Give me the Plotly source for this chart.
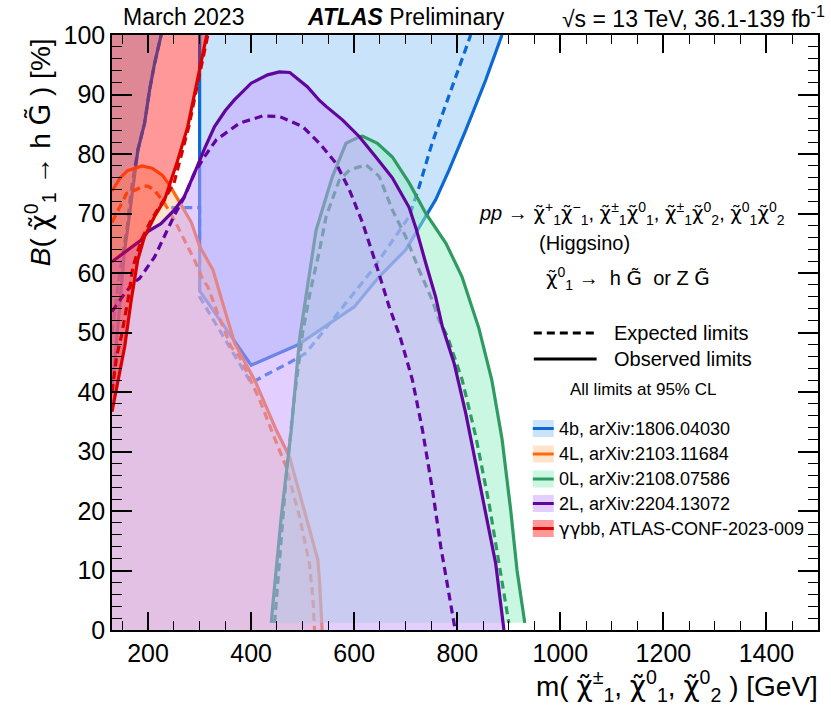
import plotly.graph_objects as go

X_MIN, X_MAX = 130, 1500
Y_MIN, Y_MAX = 0, 100

# ---------------- data ----------------
# 4b, arXiv:1806.04030
b4_obs_right_x = [300, 300, 400, 490, 600, 648.7, 700, 739, 758, 784, 816.5, 855, 886.7]
b4_obs_right_y = [100, 57, 44.5, 47.9, 54.3, 59.4, 63.9, 69.5, 72.3, 77.3, 84, 92.4, 100]
b4_obs_left_x = [130, 138, 147, 154.6, 161, 170.6, 180.3, 193.3, 203, 212.6, 225.4]
b4_obs_left_y = [40, 48, 57, 63.9, 67.8, 73.9, 80.7, 85.2, 90.8, 95.2, 100]
b4_exp_x = [130, 145, 160, 166, 172, 180.3, 193.3, 203, 212.6, 225.4, None,
            245, 300, 300, 400, 429, 478, 507, 545.5, 577, 635, 706.7, 726, 751, 790, 826]
b4_exp_y = [50, 60, 68, 73, 76.5, 80.7, 85.2, 90.8, 95.2, 100, None,
            71, 71, 56, 41.5, 42.9, 45.1, 46.6, 50.8, 54.3, 60.5, 69.5, 74.5, 81.8, 91.3, 100]

# 4L, arXiv:2103.11684
l4_obs_x = [130, 146, 160, 188, 208, 228, 243, 262, 283.5, 300, 326, 347, 368, 408, 432.5, 448.7, 474.5, 500, 529.5, 533, 537.8]
l4_obs_y = [73.8, 76, 77.2, 78, 77.6, 76.4, 74.6, 71.8, 68.6, 64.5, 60.5, 54.3, 48.2, 41.8, 37, 33.6, 29.1, 21.3, 11.8, 7.8, 0]
l4_exp_x = [130, 148, 158.5, 174, 190.6, 200, 212.6, 232, 251, 270.7, 290, 306.7, 315.8, 335, 345.4, 361, 377.7, 416.4, 442, 468, 494, 513, 519.6, 523]
l4_exp_y = [68.5, 71.7, 73.4, 73.9, 74.6, 74.6, 73.9, 71.7, 68.9, 65.5, 62.2, 58.8, 57.7, 53.2, 51, 47.6, 45.9, 38.7, 33, 27.4, 19, 11.2, 5.6, 0]

# 0L, arXiv:2108.07586
l0_obs_x = [439, 441.7, 458.4, 477.8, 494, 519, 526, 557.7, 584, 610, 616, 645, 674, 707, 739, 778, 809, 842, 867, 887, 903.6, 916, 931]
l0_obs_y = [1.2, 3.9, 19, 33.6, 49, 63.9, 67.2, 76.2, 81.8, 82.9, 83, 81.8, 79.5, 75.1, 70, 65, 59.4, 50.7, 42, 32, 20.2, 10, 1.2]
l0_exp_x = [445.5, 455, 468, 484, 500, 515, 532, 545.5, 571, 590.6, 623, 648.7, 674, 700, 726, 751, 765, 781, 809.6, 836, 861.6, 881, 900]
l0_exp_y = [1.2, 12.3, 25.8, 39.2, 50, 57, 63.5, 69.5, 75.6, 77.3, 78.2, 76.2, 70.6, 66.1, 60.5, 55.5, 52, 49.3, 42, 32.5, 21.3, 11.2, 1.2]

# 2L, arXiv:2204.13072
l2_obs_x = [130, 160, 186, 200, 225, 251, 270, 290, 300, 310, 329, 350, 367.5, 400, 432, 455, 475, 494, 509, 532.6, 545.5, 577.7, 610, 642, 674, 706.7, 720, 739, 758, 771, 794, 816.5, 848.6, 874.5, 890.6]
l2_obs_y = [61.9, 63.8, 65.5, 67, 68.3, 70.6, 72.8, 76.8, 79, 81, 84.6, 87.3, 89.1, 91.9, 93.3, 93.8, 93.7, 92.4, 91.3, 89, 88, 85.7, 82.9, 79.5, 76, 71, 67.5, 61.6, 56, 51, 44.8, 36.4, 22.4, 11.2, 0]
l2_exp_x = [130, 150, 171, 183.6, 212.6, 235, 251, 270.7, 290, 309, 332.6, 377.7, 422.8, 455, 500, 532.6, 565, 590.6, 616.4, 642, 668, 690, 713, 732.5, 752, 768, 784, 796]
l2_exp_y = [53.5, 56, 58.3, 59.1, 62.7, 66.7, 69.7, 72.8, 76.8, 79.5, 82.4, 85.2, 86.4, 86.3, 84.6, 81.8, 78.4, 74, 68.4, 61.6, 54.3, 49, 42, 33.6, 23.5, 14, 5.6, 0]

# yybb, ATLAS-CONF-2023-009
gg_obs_x = [130, 145.5, 154.6, 167.4, 180, 193, 212.6, 232, 244.8, 257, 277, 293, 306, 313.9]
gg_obs_y = [36.7, 43.7, 47.6, 55.5, 62.2, 66.1, 69.5, 72.3, 75.6, 78.8, 84.6, 91.3, 96.9, 100]
gg_exp_x = [130, 139, 148, 161, 170.6, 186.7, 206, 225.4, 238, 250, 262, 279, 295, 307, 316]
gg_exp_y = [40, 46, 49.3, 55.5, 61, 65.5, 68.9, 71.7, 73.4, 75, 79, 84.6, 91.3, 96, 100]

GREEK = '<span style="font-family:DejaVu Sans">{}</span>'
legend_labels = ["4b, arXiv:1806.04030", "4L, arXiv:2103.11684", "0L, arXiv:2108.07586",
                 "2L, arXiv:2204.13072", GREEK.format("γγ") + "bb, ATLAS-CONF-2023-009"]

# ---------------- styles ----------------
C4B, F4B = "#0b68d4", "rgba(145,200,245,0.5)"
C4L, F4L = "#ff6a10", "rgba(255,200,150,0.5)"
C0L, F0L = "#2f9a62", "rgba(150,240,195,0.5)"
C2L, F2L = "#62049e", "rgba(200,160,255,0.5)"
CGG, FGG = "#d90000", "rgba(255,0,0,0.40)"
LW = 3.2
DASH = "8px,5px"
FONT = "Liberation Sans, Arial, sans-serif"

fig = go.Figure()


def add_fill(xs, ys, color):
    fig.add_trace(go.Scatter(x=xs, y=ys, mode="lines", fill="toself", fillcolor=color,
                             line=dict(width=0), hoverinfo="skip", showlegend=False))


def add_line(xs, ys, color, dash=None):
    fig.add_trace(go.Scatter(x=xs, y=ys, mode="lines", connectgaps=False,
                             line=dict(color=color, width=LW, dash=dash or "solid"),
                             hoverinfo="skip", showlegend=False))


# 4b (bottom layer)
add_fill(b4_obs_right_x, b4_obs_right_y, F4B)
add_fill(b4_obs_left_x + [X_MIN], b4_obs_left_y + [Y_MAX], F4B)
add_line(b4_exp_x, b4_exp_y, C4B, DASH)
add_line(b4_obs_right_x, b4_obs_right_y, C4B)
add_line(b4_obs_left_x, b4_obs_left_y, C4B)
# 4L
add_fill(l4_obs_x + [X_MIN], l4_obs_y + [Y_MIN], F4L)
add_line(l4_exp_x, l4_exp_y, C4L, DASH)
add_line(l4_obs_x, l4_obs_y, C4L)
# 0L
add_fill(l0_obs_x, l0_obs_y, F0L)
add_line(l0_exp_x, l0_exp_y, C0L, DASH)
add_line(l0_obs_x, l0_obs_y, C0L)
# 2L
add_fill(l2_obs_x + [X_MIN], l2_obs_y + [Y_MIN], F2L)
add_line(l2_exp_x, l2_exp_y, C2L, DASH)
add_line(l2_obs_x, l2_obs_y, C2L)
# yybb (top layer)
add_fill(gg_obs_x + [X_MIN], gg_obs_y + [Y_MAX], FGG)
add_line(gg_exp_x, gg_exp_y, CGG, DASH)
add_line(gg_obs_x, gg_obs_y, CGG)

# ---------------- layout helpers (pixel -> paper) ----------------
PL, PR, PT, PB = 112, 820, 35, 630
W, H = 831, 715


def px(x):
    return (x - PL) / (PR - PL)


def py(y):
    return (PB - y) / (PB - PT)


shapes = []
annots = []


def text(x, y, s, size, xanchor="left", yanchor="middle", angle=0):
    annots.append(dict(x=px(x), y=py(y), xref="paper", yref="paper", text=s, showarrow=False,
                       xanchor=xanchor, yanchor=yanchor, textangle=angle,
                       font=dict(family=FONT, size=size, color="black")))


# Expected / observed legend
shapes.append(dict(type="line", xref="paper", yref="paper", x0=px(535), x1=px(598), y0=py(333), y1=py(333),
                   line=dict(color="black", width=3, dash="8px,5px")))
shapes.append(dict(type="line", xref="paper", yref="paper", x0=px(535), x1=px(598), y0=py(359), y1=py(359),
                   line=dict(color="black", width=3)))
text(613, 333, "Expected limits", 20)
text(613, 359, "Observed limits", 20)
text(645, 389, "All limits at 95% CL", 17, xanchor="center")

rows = [428.5, 454, 479, 503.5, 528.5]
cols = [(C4B, F4B), (C4L, F4L), (C0L, F0L), (C2L, F2L), (CGG, FGG)]
for r, (lc, fc), lab in zip(rows, cols, legend_labels):
    shapes.append(dict(type="rect", xref="paper", yref="paper", x0=px(534), x1=px(555),
                       y0=py(r + 8.5), y1=py(r - 8.5), fillcolor=fc, line=dict(width=0)))
    shapes.append(dict(type="line", xref="paper", yref="paper", x0=px(534), x1=px(555),
                       y0=py(r), y1=py(r), line=dict(color=lc, width=3)))
    text(558, r, lab, 18)

CHI = GREEK.format("χ\u0303")
GT = GREEK.format("G\u0303")
proc = ("<i>pp</i> → " + CHI + "<sup>+</sup><sub>1</sub>" + CHI + "<sup>−</sup><sub>1</sub>, "
        + CHI + "<sup>±</sup><sub>1</sub>" + CHI + "<sup>0</sup><sub>1</sub>, "
        + CHI + "<sup>±</sup><sub>1</sub>" + CHI + "<sup>0</sup><sub>2</sub>, "
        + CHI + "<sup>0</sup><sub>1</sub>" + CHI + "<sup>0</sup><sub>2</sub>")
text(478, 213, proc, 20)
text(538, 243, "(Higgsino)", 20)
text(545, 278, CHI + "<sup>0</sup><sub>1</sub> →  h " + GT + "  or Z " + GT, 20)

# header
text(121, 17, "March 2023", 23)
text(306, 17, "<b><i>ATLAS</i></b> Preliminary", 23)
text(829, 17, "√s = 13 TeV, 36.1-139 fb<sup>-1</sup>", 23, xanchor="right")

# axis titles
text(40, 152, "<i>B</i>( " + CHI + "<sup>0</sup><sub>1</sub> → h " + GT + " ) [%]", 28, xanchor="center", angle=-90)
text(822, 686, "m( " + CHI + "<sup>±</sup><sub>1</sub>, " + CHI + "<sup>0</sup><sub>1</sub>, "
     + CHI + "<sup>0</sup><sub>2</sub> ) [GeV]", 28, xanchor="right")

fig.update_layout(
    width=W, height=H,
    margin=dict(l=PL, r=W - PR, t=PT, b=H - PB),
    paper_bgcolor="white", plot_bgcolor="white",
    showlegend=False,
    font=dict(family=FONT, color="black"),
    shapes=shapes, annotations=annots,
    xaxis=dict(range=[X_MIN, X_MAX], tick0=0, dtick=200, ticks="inside", ticklen=18, tickwidth=1.5,
               tickcolor="black", mirror="allticks", showline=True, linecolor="black", linewidth=1.5,
               showgrid=False, zeroline=False, tickfont=dict(size=25, family=FONT),
               minor=dict(ticks="inside", ticklen=9, tickwidth=1.2, tickcolor="black", dtick=50, tick0=0),
               layer="above traces"),
    yaxis=dict(range=[Y_MIN, Y_MAX], tick0=0, dtick=10, ticks="inside", ticklen=20, tickwidth=1.5,
               tickcolor="black", mirror="allticks", showline=True, linecolor="black", linewidth=1.5,
               showgrid=False, zeroline=False, tickfont=dict(size=25, family=FONT),
               minor=dict(ticks="inside", ticklen=10, tickwidth=1.2, tickcolor="black", dtick=2, tick0=0),
               layer="above traces"),
)

fig.write_html("out.html", config={"displayModeBar": False},
               post_script="document.body.style.margin='0px';document.body.style.overflow='hidden';")
